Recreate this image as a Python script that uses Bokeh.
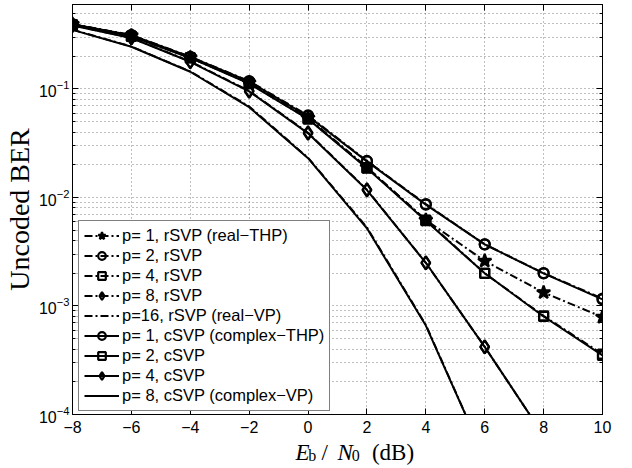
from bokeh.plotting import figure
from bokeh.layouts import column
from bokeh.models import (FixedTicker, Legend, LegendItem, LinearAxis, LogAxis, Title,
                          Range1d, CustomJSTickFormatter)
from bokeh.core.properties import value
from bokeh.embed import file_html
from bokeh.resources import INLINE

# ---------------- data ----------------
ebn0_db = [-8, -6, -4, -2, 0, 2, 4, 6, 8, 10]

# rSVP curves (dash-dot)
rsvp_p1 = [0.395, 0.310, 0.195, 0.114, 0.054, 0.0190, 0.0062, 0.0026, 0.00133, 0.00079]
rsvp_p2 = [0.396, 0.314, 0.198, 0.118, 0.057, 0.0217, 0.0087, 0.0037, 0.00201, 0.00117]
rsvp_p4 = [0.391, 0.306, 0.194, 0.113, 0.053, 0.0188, 0.0062, 0.0020, 0.00081, 0.00036]
rsvp_p8 = [0.386, 0.296, 0.179, 0.096, 0.0395, 0.0118, 0.0025, 0.00042, 0.000064]
rsvp_p16 = [0.352, 0.246, 0.145, 0.069, 0.0232, 0.0053, 0.00067, 0.00004]

# cSVP curves (solid)
csvp_p1 = [0.394, 0.313, 0.197, 0.117, 0.056, 0.0215, 0.0086, 0.0037, 0.00200, 0.00115]
csvp_p2 = [0.390, 0.305, 0.193, 0.112, 0.053, 0.0186, 0.0061, 0.0020, 0.00080, 0.00035]
csvp_p4 = [0.385, 0.295, 0.178, 0.095, 0.039, 0.0117, 0.0025, 0.00042, 0.000064]
csvp_p8 = [0.350, 0.245, 0.144, 0.068, 0.023, 0.0052, 0.00066, 0.00004]

x_tick_values = [-8, -6, -4, -2, 0, 2, 4, 6, 8, 10]
x_tick_labels = ["\u22128", "\u22126", "\u22124", "\u22122", "0", "2", "4", "6", "8", "10"]
y_tick_values = [1e-4, 1e-3, 1e-2, 1e-1]
y_minor_values = [k * 10.0 ** e for e in (-4, -3, -2, -1) for k in range(2, 10)]

legend_labels = [
    "p= 1, rSVP (real\u2212THP)",
    "p= 2, rSVP",
    "p= 4, rSVP",
    "p= 8, rSVP",
    "p=16, rSVP (real\u2212VP)",
    "p= 1, cSVP (complex\u2212THP)",
    "p= 2, cSVP",
    "p= 4, cSVP",
    "p= 8, cSVP (complex\u2212VP)",
]
y_label = "Uncoded BER"
# x label pieces: text, size, style, subscript?
x_label_parts = [("E", "23px", "italic", False), ("b", "16px", "normal", True),
                 ("/", "23px", "normal", False), ("N", "23px", "italic", False),
                 ("0", "16px", "normal", True), ("(dB)", "23px", "normal", False)]
x_label_offsets = [266, 281, 297, 316, 333, 357]   # pixel layout of the label pieces

# ---------------- figure ----------------
p = figure(width=632, height=439, x_range=Range1d(-8, 10), y_range=Range1d(1e-4, 0.6),
           y_axis_type="log", output_backend="svg", toolbar_location=None, title=None,
           min_border_left=72, min_border_right=30, min_border_top=4, min_border_bottom=25,
           background_fill_color="white", border_fill_color="white")
p.outline_line_color = "black"
p.outline_line_width = 1

TICK_FONT = "Liberation Sans"

p.xaxis.ticker = FixedTicker(ticks=x_tick_values)
p.xaxis.major_label_overrides = {v: s for v, s in zip(x_tick_values, x_tick_labels)}
p.yaxis.ticker = FixedTicker(ticks=y_tick_values, minor_ticks=y_minor_values)

for ax in (p.xaxis[0], p.yaxis[0]):
    ax.axis_line_color = "black"
    ax.major_tick_line_color = "black"
    ax.minor_tick_line_color = "black"
    ax.major_tick_in = 6
    ax.major_tick_out = 0
    ax.minor_tick_in = 3
    ax.minor_tick_out = 0
    ax.major_label_text_font = TICK_FONT
    ax.major_label_text_font_size = "16px"
    ax.major_label_text_color = "black"
    ax.axis_label_standoff = 0
p.xaxis.major_label_standoff = 6
p.yaxis.major_label_standoff = 3

# mirrored ticks on top and right (box with ticks)
top_ax = LinearAxis(ticker=FixedTicker(ticks=x_tick_values),
                    formatter=CustomJSTickFormatter(code="return ''"))
right_ax = LogAxis(ticker=FixedTicker(ticks=y_tick_values, minor_ticks=y_minor_values),
                   formatter=CustomJSTickFormatter(code="return ''"))
for ax in (top_ax, right_ax):
    ax.axis_line_color = "black"
    ax.major_tick_line_color = "black"
    ax.minor_tick_line_color = "black"
    ax.major_tick_in = 6
    ax.major_tick_out = 0
    ax.minor_tick_in = 3
    ax.minor_tick_out = 0
    ax.major_label_text_font_size = "0px"
    ax.major_label_standoff = 0
    ax.axis_label_standoff = 0
p.add_layout(top_ax, "above")
p.add_layout(right_ax, "right")

# grid (dotted)
for g in (p.xgrid[0], p.ygrid[0]):
    g.grid_line_color = "black"
    g.grid_line_alpha = 0.5
    g.grid_line_dash = "1 3"
    g.grid_line_width = 1
p.ygrid.minor_grid_line_color = "black"
p.ygrid.minor_grid_line_alpha = 0.5
p.ygrid.minor_grid_line_dash = "1 3"
p.ygrid.minor_grid_line_width = 1

# y label as a title on the left side
p.add_layout(Title(text=y_label, align="center", offset=-14, standoff=2,
                   text_font="Liberation Serif", text_font_size="28px",
                   text_font_style="normal", text_color="black"), "left")

# ---------------- series ----------------
DASHDOT = "8 3 2 3"
series = [
    (rsvp_p1, DASHDOT, "star", True),
    (rsvp_p2, DASHDOT, "circle", False),
    (rsvp_p4, DASHDOT, "square", False),
    (rsvp_p8, DASHDOT, "diamond", False),
    (rsvp_p16, DASHDOT, None, False),
    (csvp_p1, "solid", "circle", False),
    (csvp_p2, "solid", "square", False),
    (csvp_p4, "solid", "diamond", False),
    (csvp_p8, "solid", None, False),
]
marker_size = {"star": 14, "circle": 10, "square": 9, "diamond": 13}

items = []
for (ys, dash, marker, filled), label in zip(series, legend_labels):
    xs = ebn0_db[:len(ys)]
    rends = [p.line(xs, ys, line_color="black", line_width=2, line_dash=dash)]
    if marker is not None:
        rends.append(p.scatter(xs, ys, marker=marker, size=marker_size[marker],
                               line_color="black", line_width=2.2,
                               fill_color="black" if filled else None))
    items.append(LegendItem(label=label, renderers=rends))

legend = Legend(items=items, location=(6, 3))
legend.border_line_color = "black"
legend.border_line_width = 1
legend.background_fill_color = "white"
legend.background_fill_alpha = 1.0
legend.label_text_font = TICK_FONT
legend.label_text_font_size = "16.5px"
legend.label_text_color = "black"
legend.glyph_width = 35
legend.glyph_height = 19
legend.label_height = 19
legend.spacing = 1
legend.padding = 5
legend.margin = 0
legend.label_standoff = 3
p.add_layout(legend, "center")

# ---------------- x label strip (real text, with subscripts) ----------------
q = figure(width=632, height=29, x_range=Range1d(0, 632), y_range=Range1d(0, 29),
           output_backend="svg", toolbar_location=None, min_border=0, title=None,
           x_axis_type=None, y_axis_type=None,
           background_fill_color="white", border_fill_color="white")
q.grid.visible = False
q.outline_line_color = None
for (txt, fs, style, sub), xo in zip(x_label_parts, x_label_offsets):
    q.text(x=[xo], y=[13 if sub else 16], text=[txt], text_align="left",
           text_baseline="alphabetic", text_font=value("Liberation Serif"),
           text_font_size=fs, text_font_style=style, text_color="black")

layout = column(p, q, spacing=0)
open("out.html", "w").write(file_html(layout, INLINE))
